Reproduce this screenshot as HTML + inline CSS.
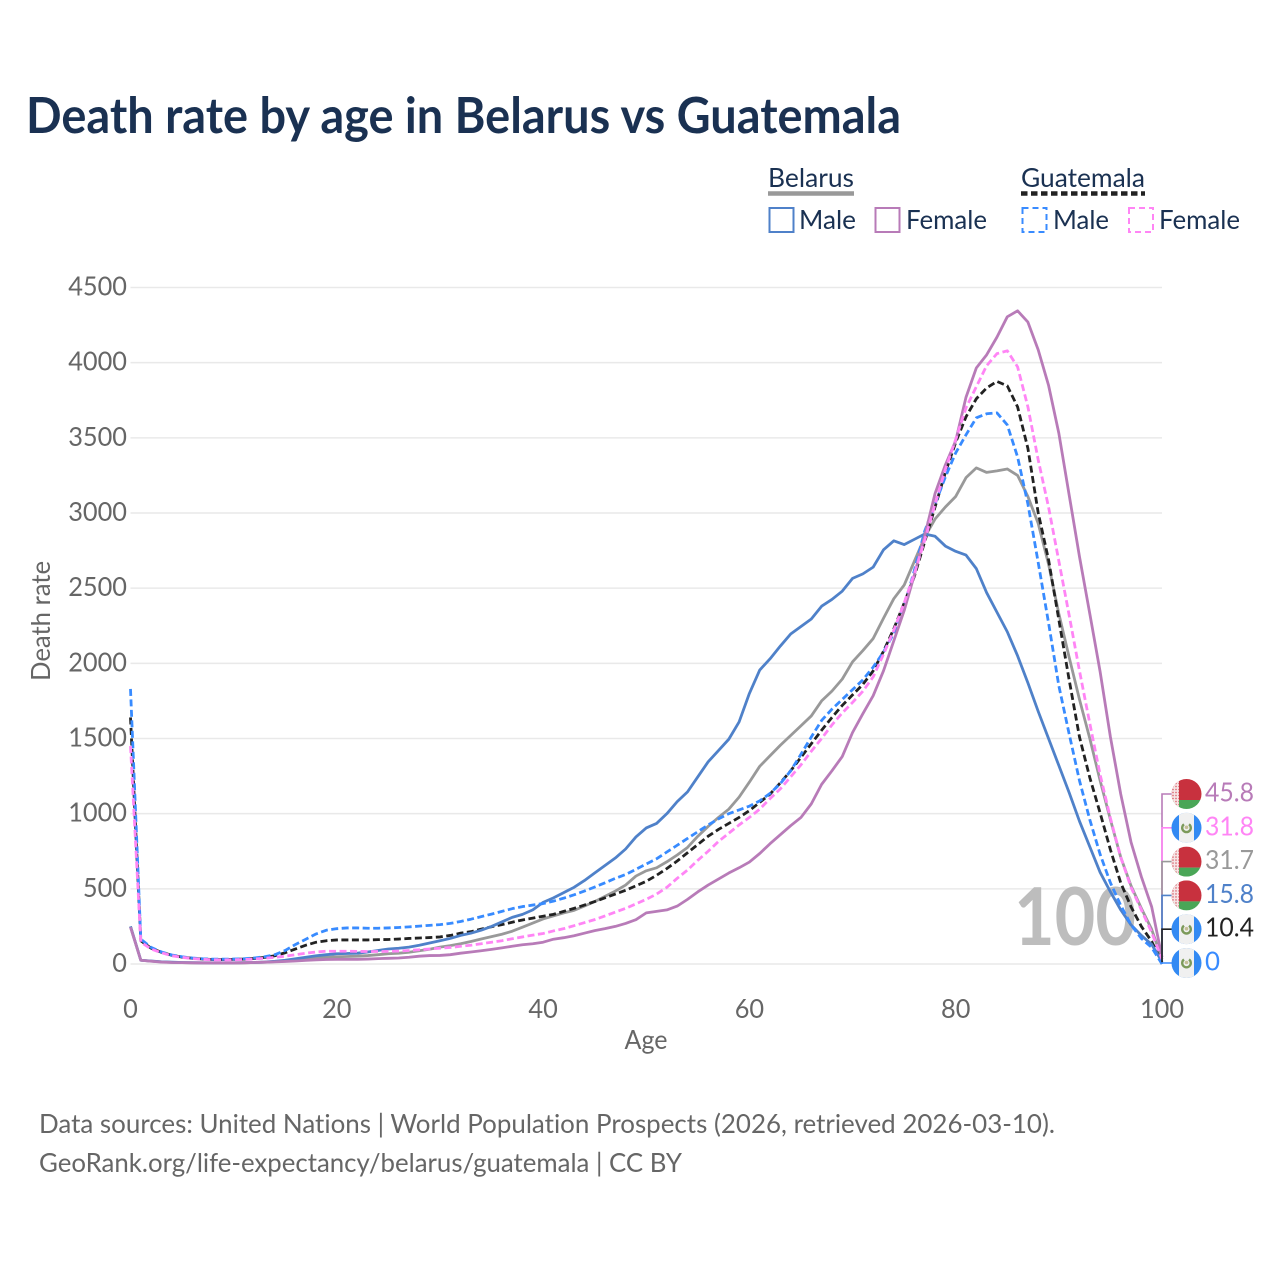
<!DOCTYPE html>
<html lang="en">
<head>
<meta charset="utf-8">
<title>Death rate by age in Belarus vs Guatemala</title>
<style>
html,body{margin:0;padding:0;background:#fff;}
svg{display:block;}
text{font-family:"Lato","Carlito","Liberation Sans",sans-serif;font-variant-ligatures:none;}
</style>
</head>
<body>
<svg id="chart" xmlns="http://www.w3.org/2000/svg" width="1280" height="1280" viewBox="0 0 1280 1280">
  <defs>
    <clipPath id="flag-clip"><circle cx="0" cy="0" r="15"/></clipPath>
    <pattern id="orn" x="0" y="0" width="3" height="3" patternUnits="userSpaceOnUse">
      <rect width="3" height="3" fill="#f6e6e6"/>
      <rect x="0.800" y="0.800" width="1.400" height="1.400" fill="#d9606b"/>
    </pattern>
    <g id="flag-belarus">
      <g clip-path="url(#flag-clip)">
        <rect x="-15" y="-15" width="30" height="21" fill="#c8313e"/>
        <rect x="-15" y="6" width="30" height="9" fill="#4aa657"/>
        <rect x="-15" y="-15" width="7.500" height="30" fill="url(#orn)"/>
      </g>
    </g>
    <g id="flag-guatemala">
      <g clip-path="url(#flag-clip)">
        <rect x="-15" y="-15" width="30" height="30" fill="#338af3"/>
        <rect x="-7.500" y="-15" width="15" height="30" fill="#f0f0f0"/>
        <path d="M-2.500 -3.500A4.300 4.300 0 1 0 2.500 -3.500" fill="none" stroke="#7c9a5a" stroke-width="2.400"/>
        <circle cx="0" cy="-0.500" r="1.800" fill="#c4bd96"/>
      </g>
    </g>
  </defs>

  <text x="26" y="133" font-size="50" font-weight="700" fill="#1a3152" textLength="875" lengthAdjust="spacingAndGlyphs">Death rate by age in Belarus vs Guatemala</text>

  <g id="grid"></g>
  <text x="1014" y="945" font-size="80" font-weight="700" fill="#bdbdbd" textLength="122" lengthAdjust="spacingAndGlyphs">100</text>
  <g id="y-ticks"></g>
  <g id="x-ticks"></g>
  <text transform="translate(50,621) rotate(-90)" text-anchor="middle" font-size="26.500" fill="#666" textLength="120" lengthAdjust="spacingAndGlyphs">Death rate</text>
  <text x="646" y="1049" text-anchor="middle" font-size="26.500" fill="#666" textLength="43" lengthAdjust="spacingAndGlyphs">Age</text>
  <g id="series"></g>
  <g id="end-labels"></g>

  <g>
    <text x="768" y="187" font-size="26.500" fill="#1a3152" textLength="86" lengthAdjust="spacingAndGlyphs">Belarus</text>
    <line x1="768" y1="193.500" x2="854" y2="193.500" stroke="#999" stroke-width="4.500"/>
    <text x="1021" y="187" font-size="26.500" fill="#1a3152" textLength="124" lengthAdjust="spacingAndGlyphs">Guatemala</text>
    <line x1="1021" y1="193.500" x2="1145" y2="193.500" stroke="#222" stroke-width="4.500" stroke-dasharray="6.500 3.500"/>
    <rect x="769.500" y="208" width="24" height="24" fill="none" stroke="#4f81c9" stroke-width="2"/>
    <text x="799" y="229" font-size="26.500" fill="#1a3152" textLength="57" lengthAdjust="spacingAndGlyphs">Male</text>
    <rect x="875.500" y="208" width="24" height="24" fill="none" stroke="#b87bb8" stroke-width="2"/>
    <text x="906" y="229" font-size="26.500" fill="#1a3152" textLength="81" lengthAdjust="spacingAndGlyphs">Female</text>
    <rect x="1022.500" y="208" width="24" height="24" fill="none" stroke="#388bff" stroke-width="2" stroke-dasharray="6 4"/>
    <text x="1053" y="229" font-size="26.500" fill="#1a3152" textLength="56" lengthAdjust="spacingAndGlyphs">Male</text>
    <rect x="1129" y="208" width="24" height="24" fill="none" stroke="#ff85f5" stroke-width="2" stroke-dasharray="6 4"/>
    <text x="1159" y="229" font-size="26.500" fill="#1a3152" textLength="81" lengthAdjust="spacingAndGlyphs">Female</text>
  </g>

  <text x="39" y="1133" font-size="26.500" fill="#666" textLength="1016" lengthAdjust="spacingAndGlyphs">Data sources: United Nations | World Population Prospects (2026, retrieved 2026-03-10).</text>
  <a><text x="39" y="1172" font-size="26.500" fill="#666" textLength="643" lengthAdjust="spacingAndGlyphs">GeoRank.org/life-expectancy/belarus/guatemala | CC BY</text></a>
</svg>
<script>
const yTickLabels = [0, 500, 1000, 1500, 2000, 2500, 3000, 3500, 4000, 4500];
const xTickLabels = [0, 20, 40, 60, 80, 100];

const belarusTotal = [
  250,25,19,14,11,9,8,8,7,7,
  7,8,10,12,16,20,26,33,40,45,
  48,50,52,56,62,68,72,78,88,98,
  112,122,135,150,166,182,198,218,245,272,
  300,320,340,357,385,415,450,485,525,585,
  620,640,680,725,775,850,915,975,1030,1110,
  1210,1315,1385,1455,1520,1585,1650,1750,1815,1895,
  2010,2085,2165,2300,2430,2520,2680,2840,2960,3040,
  3110,3235,3300,3270,3280,3293,3250,3110,2930,2660,
  2330,2040,1760,1500,1220,960,710,520,370,230,
  31.7];
const guatemalaTotal = [
  1640,155,105,78,58,46,38,33,30,30,
  31,33,37,44,55,75,100,125,145,155,
  160,160,160,160,162,163,166,170,173,176,
  180,190,205,215,232,248,262,278,293,305,
  318,330,350,370,392,415,440,465,490,520,
  550,590,635,685,740,795,850,895,935,975,
  1020,1075,1130,1205,1285,1375,1465,1555,1640,1720,
  1790,1860,1950,2080,2230,2400,2580,2810,3040,3270,
  3470,3640,3760,3832,3875,3846,3706,3430,3000,2690,
  2290,1890,1510,1240,1005,760,540,380,250,150,
  10.4];
const belarusMale = [
  250,25,20,15,12,10,9,8,8,8,
  8,9,10,13,18,25,35,45,55,62,
  68,70,72,80,90,100,105,112,125,140,
  155,170,190,205,225,250,280,310,330,360,
  410,440,475,510,555,605,655,705,765,845,
  905,935,1000,1080,1145,1245,1345,1420,1495,1610,
  1800,1955,2030,2115,2195,2245,2295,2380,2425,2480,
  2565,2595,2640,2755,2815,2790,2825,2860,2845,2780,
  2745,2720,2630,2470,2340,2210,2050,1870,1680,1500,
  1320,1140,950,780,610,480,360,260,190,130,
  15.8];
const guatemalaMale = [
  1830,165,110,80,60,48,40,35,32,32,
  33,35,40,48,62,90,130,165,200,225,
  235,240,240,238,238,240,243,247,252,257,
  262,270,283,298,315,332,350,368,382,392,
  402,418,438,460,485,512,540,570,595,630,
  665,700,745,790,835,880,925,965,1000,1025,
  1050,1085,1135,1200,1285,1395,1510,1620,1695,1760,
  1825,1890,1975,2075,2200,2380,2620,2880,3060,3240,
  3400,3520,3633,3660,3666,3586,3373,3060,2670,2270,
  1850,1530,1220,960,730,540,390,260,170,110,
  0];
const belarusFemale = [
  245,25,18,13,10,9,8,7,7,7,
  7,8,10,12,14,17,20,24,28,30,
  31,31,31,33,36,38,40,45,52,56,
  57,62,72,80,88,97,107,118,128,135,
  145,165,175,188,205,222,235,250,270,295,
  340,350,360,385,430,480,525,565,605,640,
  678,735,800,860,920,975,1065,1195,1285,1380,
  1540,1665,1785,1950,2150,2350,2590,2850,3130,3320,
  3480,3770,3965,4052,4170,4305,4345,4270,4085,3850,
  3530,3120,2710,2330,1945,1510,1130,810,580,380,
  45.8];
const guatemalaFemale = [
  1450,145,100,75,55,44,36,31,28,27,
  28,30,33,38,44,52,62,72,80,85,
  85,85,84,83,83,84,86,90,95,100,
  105,110,118,125,135,145,155,168,180,192,
  203,220,235,255,275,295,320,345,370,400,
  430,465,510,570,625,690,750,815,870,925,
  975,1030,1100,1165,1245,1325,1415,1500,1590,1670,
  1740,1815,1910,2060,2220,2400,2600,2820,3060,3290,
  3490,3700,3840,3980,4060,4079,3972,3706,3353,3040,
  2680,2320,1950,1600,1260,970,710,510,360,210,
  31.8];

const NS = 'http://www.w3.org/2000/svg';
const xScale = a => 130.5 + a * (1162 - 130.5) / 100;
const yScale = v => 964 - v * (964 - 287.5) / 4500;
function mk(tag, attrs, parent) {
  const el = document.createElementNS(NS, tag);
  for (const k in attrs) el.setAttribute(k, attrs[k]);
  parent.appendChild(el);
  return el;
}

const gridG = document.getElementById('grid');
const yG = document.getElementById('y-ticks');
const xG = document.getElementById('x-ticks');
yTickLabels.forEach(v => {
  const ln = mk('line', {x1: xScale(0), x2: xScale(100), y1: yScale(v), y2: yScale(v), stroke: '#e9e9e9', 'stroke-width': 1.5}, gridG);
  
  
  const t = mk('text', {x: 127, y: yScale(v) + 8, 'text-anchor': 'end', 'font-size': 26.5, fill: '#666'}, yG);
  
  
  const s = String(v);
  t.setAttribute('textLength', s.length * 14.7);
  t.setAttribute('lengthAdjust', 'spacingAndGlyphs');
  t.textContent = s;
});
xTickLabels.forEach(a => {
  const t = mk('text', {x: xScale(a), y: 1018, 'text-anchor': 'middle', 'font-size': 26.5, fill: '#666'}, xG);
  
  
  const s = String(a);
  t.setAttribute('textLength', s.length * 14.7);
  t.setAttribute('lengthAdjust', 'spacingAndGlyphs');
  t.textContent = s;
});

const seriesG = document.getElementById('series');
function drawLine(values, color, dash, name) {
  const d = values.map((v, i) => (i ? 'L' : 'M') + xScale(i).toFixed(2) + ' ' + yScale(v).toFixed(2)).join('');
  const p = mk('path', {d: d, fill: 'none', stroke: color, 'stroke-width': 2.8, 'stroke-linejoin': 'round'}, seriesG);
  if (dash) p.setAttribute('stroke-dasharray', '7 3.5');
  
  
}
drawLine(belarusTotal, '#999999', false, 'line-belarus-total');
drawLine(guatemalaTotal, '#222222', true, 'line-guatemala-total');
drawLine(belarusMale, '#4f81c9', false, 'line-belarus-male');
drawLine(guatemalaMale, '#388bff', true, 'line-guatemala-male');
drawLine(belarusFemale, '#b87bb8', false, 'line-belarus-female');
drawLine(guatemalaFemale, '#ff85f5', true, 'line-guatemala-female');

const endG = document.getElementById('end-labels');
const endEntries = [
  {values: belarusFemale, color: '#b87bb8', flag: 'flag-belarus', name: 'belarus-female'},
  {values: guatemalaFemale, color: '#ff85f5', flag: 'flag-guatemala', name: 'guatemala-female'},
  {values: belarusTotal, color: '#999999', flag: 'flag-belarus', name: 'belarus-total'},
  {values: belarusMale, color: '#4f81c9', flag: 'flag-belarus', name: 'belarus-male'},
  {values: guatemalaTotal, color: '#222222', flag: 'flag-guatemala', name: 'guatemala-total'},
  {values: guatemalaMale, color: '#388bff', flag: 'flag-guatemala', name: 'guatemala-male'}
];
const sortedEnds = endEntries.slice().sort((a, b) => b.values[100] - a.values[100]);
sortedEnds.forEach((e, i) => {
  const ly = 963 - (sortedEnds.length - 1 - i) * 33.8;
  const val = e.values[100];
  const c = mk('path', {d: 'M' + xScale(100) + ' ' + yScale(val) + 'V' + ly + 'H1172', fill: 'none', stroke: e.color, 'stroke-width': 1.6}, endG);
  
  
});
sortedEnds.forEach((e, i) => {
  const ly = 963 - (sortedEnds.length - 1 - i) * 33.8;
  const u = mk('use', {href: '#' + e.flag, transform: 'translate(1186.500 ' + ly + ')'}, endG);
  
  
  const s = String(e.values[100]);
  const t = mk('text', {x: 1205, y: ly + 7.5, 'font-size': 26.5, fill: e.color}, endG);
  
  
  t.setAttribute('textLength', s.length === 1 ? 15 : 49);
  t.setAttribute('lengthAdjust', 'spacingAndGlyphs');
  t.textContent = s;
});
</script>
</body>
</html>
